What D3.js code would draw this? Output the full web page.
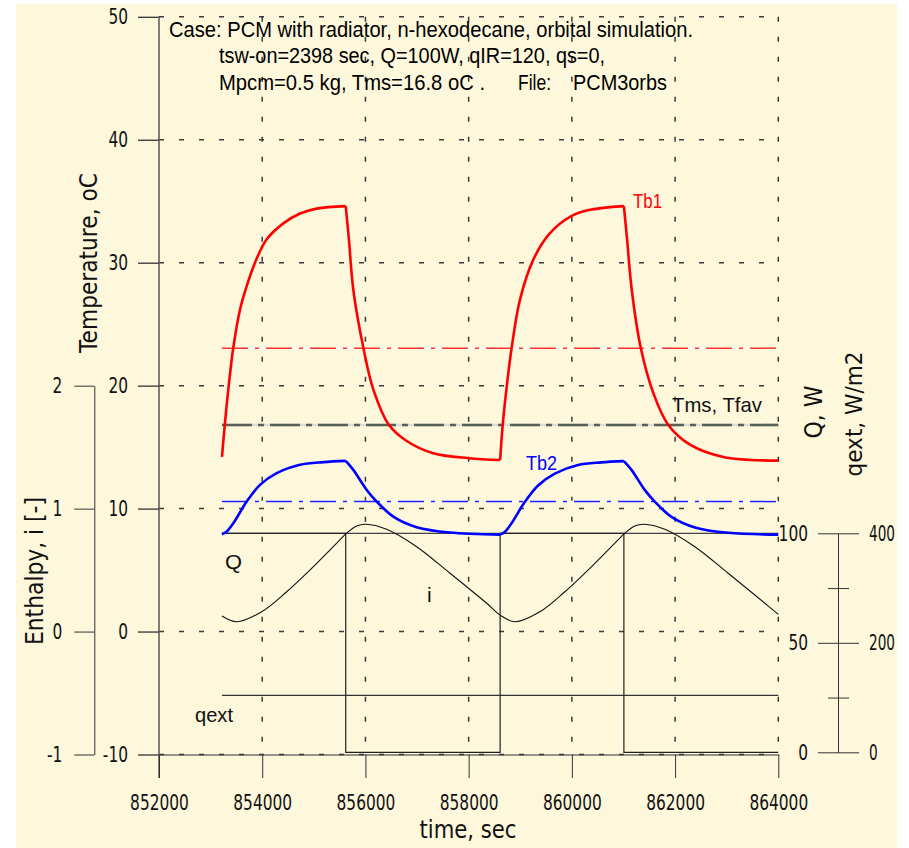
<!DOCTYPE html>
<html>
<head>
<meta charset="utf-8">
<script src="https://cdn.jsdelivr.net/npm/d3@7"></script>
<style>
body { margin: 0; background: #fff; }
svg { display: block; }
.grid { stroke: #3a3a3a; stroke-width: 1.5; stroke-dasharray: 5,15; fill: none; }
.axis path, .axis line { stroke: #333; }
.axis text { font-family: "DejaVu Sans", sans-serif; font-size: 22px; fill: #111; }
.lbl { font-family: "Liberation Sans", Arial, sans-serif; }
.ttl { font-family: "DejaVu Sans", sans-serif; fill: #111; }
</style>
</head>
<body>
<svg width="909" height="848"></svg>
<script>

// ---- data ----
var timeTicks = [852000, 854000, 856000, 858000, 860000, 862000, 864000];
var tempTicks = [-10, 0, 10, 20, 30, 40, 50];
var enthTicks = [-1, 0, 1, 2];
var qTicks = [0, 50, 100];
var qextTicks = [0, 200, 400];
var qextMinor = [100, 300];

// heater switching (Q, W)
var qTime = [853220, 855618, 858610, 861008, 864000];
var qVal  = [100, 0, 100, 0, 0];
var qMax = 100;

// external flux, W/m2
var qextTime = [853220, 864000];
var qextVal  = [104, 104];

// Tb1, oC
var tb1Time = [853220, 853279, 853356, 853440, 853570, 853699, 853860, 854087, 854409, 854732, 855056, 855618,
               855680, 855765, 855959, 856152, 856457, 856800, 857315, 858001, 858610,
               858660, 858743, 858834, 858995, 859253, 859576, 859997, 860351, 861008,
               861070, 861160, 861334, 861578, 861869, 862289, 862935, 864000];
var tb1Temp = [14.2, 17.0, 20.2, 23.1, 26.2, 28.1, 30.0, 31.9, 33.2, 34.0, 34.4, 34.6,
               31.9, 27.8, 23.1, 19.7, 16.8, 15.5, 14.5, 14.1, 13.95,
               16.8, 20.1, 23.1, 27.0, 30.25, 32.4, 33.8, 34.3, 34.6,
               31.9, 27.8, 23.1, 19.4, 16.8, 15.2, 14.2, 13.9];

// Tb2, oC
var tb2Time = [853220, 853312, 853440, 853699, 853957, 854281, 854732, 855184, 855618,
               855765, 856025, 856218, 856540, 856993, 857639, 858610,
               858700, 858830, 859090, 859350, 859670, 860120, 860570, 861008,
               861155, 861415, 861610, 861930, 862385, 863030, 864000];
var tb2Temp = [7.92, 8.13, 8.81, 10.57, 11.93, 12.88, 13.56, 13.78, 13.88,
               13.15, 11.52, 10.57, 9.35, 8.49, 8.05, 7.88,
               8.1, 8.8, 10.55, 11.9, 12.85, 13.55, 13.76, 13.86,
               13.15, 11.5, 10.55, 9.33, 8.47, 8.03, 7.88];

// enthalpy i [-]
var enthTime = [853220, 853506, 853990, 854474, 855056, 855618,
                855831, 856005, 856412, 856993, 857639, 858350, 858610,
                858896, 859380, 859864, 860446, 861008,
                861221, 861395, 861802, 862383, 863029, 863740, 864000];
var enthVal  = [0.126, 0.080, 0.161, 0.324, 0.555, 0.794,
                0.859, 0.873, 0.832, 0.69, 0.474, 0.23, 0.134,
                0.080, 0.161, 0.324, 0.555, 0.794,
                0.859, 0.873, 0.832, 0.69, 0.474, 0.23, 0.14];

// mean levels, oC
var tb1Mean = 23.05;
var tb2Mean = 10.57;
var tmsVal = 16.8;

var titleLines = ["Case: PCM with radiator, n-hexodecane, orbital simulation.",
                  "tsw-on=2398 sec, Q=100W, qIR=120, qs=0,",
                  "Mpcm=0.5 kg, Tms=16.8 oC .", "File:", "PCM3orbs"];

// ---- drawing ----
var svg = d3.select("svg");

svg.append("rect").attr("x", 16).attr("y", 4).attr("width", 881).attr("height", 844).attr("fill", "#fdf7dc");

var x = d3.scaleLinear().domain([852000, 864000]).range([159, 778.3]);
var yT = d3.scaleLinear().domain([-10, 50]).range([754.5, 16.8]);
var yI = d3.scaleLinear().domain([-1, 2]).range([754.5, 385.7]);
var yQ = d3.scaleLinear().domain([0, 100]).range([752.3, 533.3]);
var yQext = d3.scaleLinear().domain([0, 400]).range([752.3, 533.3]);

var plain = function (d) { return String(d); };   // hyphen minus, like the original

function squeeze(sel, f) {
  sel.each(function () {
    var w = this.getComputedTextLength();
    d3.select(this).attr("textLength", w * f).attr("lengthAdjust", "spacingAndGlyphs");
  });
}
function fitTo(sel, w) {
  sel.attr("textLength", w).attr("lengthAdjust", "spacingAndGlyphs");
}

// grid
svg.selectAll("line.hgrid").data(tempTicks).enter().append("line")
  .attr("class", "grid").attr("x1", x(852000)).attr("x2", x(864000))
  .attr("y1", function (d) { return yT(d); }).attr("y2", function (d) { return yT(d); });
svg.selectAll("line.vgrid").data(timeTicks.slice(1)).enter().append("line")
  .attr("class", "grid").attr("y1", yT(50)).attr("y2", yT(-10))
  .attr("x1", function (d) { return x(d); }).attr("x2", function (d) { return x(d); });

// axes
var axT = svg.append("g").attr("class", "axis").attr("transform", "translate(159,0)")
  .call(d3.axisLeft(yT).tickValues(tempTicks).tickSize(21).tickSizeOuter(0).tickPadding(10).tickFormat(plain));
axT.select(".domain").remove();
svg.append("line").attr("x1", 159).attr("x2", 159).attr("y1", yT(50)).attr("y2", 778)
  .attr("stroke", "#555").attr("stroke-width", 1.5);
axT.selectAll(".tick line").attr("stroke", "#444").attr("stroke-width", 1.3);

var axI = svg.append("g").attr("class", "axis").attr("transform", "translate(94.3,0)")
  .call(d3.axisLeft(yI).tickValues(enthTicks).tickSize(20).tickSizeOuter(0).tickPadding(12).tickFormat(plain));
axI.selectAll(".tick line").attr("stroke", "#555");

var axX = svg.append("g").attr("class", "axis").attr("transform", "translate(0," + yT(-10) + ")")
  .call(d3.axisBottom(x).tickValues(timeTicks).tickSize(23.5).tickSizeOuter(0).tickPadding(16).tickFormat(plain));
axX.select(".domain").attr("stroke", "#111");

var axQ = svg.append("g").attr("class", "axis").attr("transform", "translate(838,0)")
  .call(d3.axisLeft(yQ).tickValues(qTicks).tickSize(20).tickSizeOuter(0).tickPadding(10).tickFormat(plain));
var axQe = svg.append("g").attr("class", "axis qext").attr("transform", "translate(838,0)")
  .call(d3.axisRight(yQext).tickValues(qextTicks).tickSize(21).tickSizeOuter(0).tickPadding(10).tickFormat(plain));
axQe.select(".domain").remove();
svg.append("g").attr("class", "axis").attr("transform", "translate(838,0)")
  .call(d3.axisRight(yQext).tickValues(qextMinor).tickSize(11).tickFormat(""))
  .select(".domain").remove();
svg.append("g").attr("class", "axis").attr("transform", "translate(838,0)")
  .call(d3.axisLeft(yQext).tickValues(qextMinor).tickSize(10).tickFormat(""))
  .select(".domain").remove();

squeeze(svg.selectAll(".axis:not(.qext) text"), 0.7);
// right-most labels: narrow them with a transform so they stay inside the frame
axQe.selectAll("text").attr("x", 31 / 0.62).attr("transform", "scale(0.62,1)");

// mean / reference lines (dash-dot on a light base)
function refLine(val, base, color, w, dash) {
  svg.append("line").attr("x1", x(qTime[0])).attr("x2", x(864000)).attr("y1", yT(val)).attr("y2", yT(val))
    .attr("stroke", base).attr("stroke-width", w);
  svg.append("line").attr("x1", x(qTime[0])).attr("x2", x(864000)).attr("y1", yT(val)).attr("y2", yT(val))
    .attr("stroke", color).attr("stroke-width", w).attr("stroke-dasharray", dash);
}
refLine(tb1Mean, "#ffffff", "#ff3030", 1.5, "26,7,4,7");
refLine(tmsVal, "#dcdcdc", "#596056", 2.6, "30,6,6,6");
refLine(tb2Mean, "#ffffff", "#2020ff", 1.5, "26,7,4,7");

// Q max level, Q square wave, qext
svg.append("line").attr("x1", x(qTime[0])).attr("x2", x(864000)).attr("y1", yQ(qMax)).attr("y2", yQ(qMax))
  .attr("stroke", "#444").attr("stroke-width", 1.3);
var qLine = d3.line().x(function (d) { return x(d[0]); }).y(function (d) { return yQ(d[1]); }).curve(d3.curveStepAfter);
svg.append("path").attr("d", qLine(d3.zip(qTime, qVal))).attr("fill", "none").attr("stroke", "#222").attr("stroke-width", 1.2);
var qeLine = d3.line().x(function (d) { return x(d[0]); }).y(function (d) { return yQext(d[1]); });
svg.append("path").attr("d", qeLine(d3.zip(qextTime, qextVal))).attr("fill", "none").attr("stroke", "#333").attr("stroke-width", 1.2);

// split a series at switching times so the corners stay sharp
function pieces(times, vals, cuts) {
  var out = [], cur = [];
  for (var k = 0; k < times.length; k++) {
    cur.push([times[k], vals[k]]);
    if (k > 0 && k < times.length - 1 && cuts.indexOf(times[k]) >= 0) {
      out.push(cur);
      cur = [[times[k], vals[k]]];
    }
  }
  out.push(cur);
  return out;
}

function drawSeries(times, vals, scale, cuts, color, width) {
  var gen = d3.line().x(function (d) { return x(d[0]); }).y(function (d) { return scale(d[1]); })
    .curve(d3.curveCatmullRom.alpha(0.5));
  svg.selectAll(null).data(pieces(times, vals, cuts)).enter().append("path")
    .attr("d", gen).attr("fill", "none").attr("stroke", color).attr("stroke-width", width)
    .attr("stroke-linejoin", "round");
}

drawSeries(enthTime, enthVal, yI, [qTime[1], qTime[3]], "#111", 1.1);
drawSeries(tb2Time, tb2Temp, yT, qTime, "#0000ff", 2.6);
drawSeries(tb1Time, tb1Temp, yT, qTime, "#ff0000", 2.6);

// text
var t1 = svg.append("text").attr("class", "lbl").attr("x", 169).attr("y", 37).style("font-size", "21.5px").text(titleLines[0]);
fitTo(t1, 524);
var t2 = svg.append("text").attr("class", "lbl").attr("x", 219).attr("y", 63).style("font-size", "21.5px").text(titleLines[1]);
fitTo(t2, 386);
var t3 = svg.append("text").attr("class", "lbl").attr("x", 219).attr("y", 90).style("font-size", "21.5px").text(titleLines[2]);
fitTo(t3, 266);
var t4 = svg.append("text").attr("class", "lbl").attr("x", 518).attr("y", 90).style("font-size", "21.5px").text(titleLines[3]);
fitTo(t4, 33);
var t5 = svg.append("text").attr("class", "lbl").attr("x", 573).attr("y", 90).style("font-size", "21.5px").text(titleLines[4]);
fitTo(t5, 94);

function label(txt, px, py, w, color, size) {
  var t = svg.append("text").attr("class", "lbl").attr("x", px).attr("y", py)
    .style("font-size", size + "px").attr("fill", color).text(txt);
  if (w) fitTo(t, w);
}
label("Tb1", 633, 208, 29, "#ff0000", 21);
label("Tb2", 526, 470, 31, "#0000ff", 21);
label("Tms, Tfav", 672, 412, 90, "#111", 21);
label("Q", 225, 569, 17, "#111", 21);
label("i", 427, 602, 0, "#111", 21);
label("qext", 195, 722, 38, "#111", 21);

function vtitle(txt, px, py, w, size) {
  var t = svg.append("text").attr("class", "ttl").attr("text-anchor", "middle")
    .attr("transform", "translate(" + px + "," + py + ") rotate(-90)")
    .style("font-size", size + "px").text(txt);
  fitTo(t, w);
}
vtitle("Temperature, oC", 96.5, 263, 180, 25);
vtitle("Enthalpy, i [-]", 42.5, 571, 148, 25);
vtitle("Q, W", 822, 412, 53, 24);
vtitle("qext, W/m2", 862, 414, 125, 23);

var xt = svg.append("text").attr("class", "ttl").attr("text-anchor", "middle").attr("x", 468).attr("y", 838)
  .style("font-size", "24px").text("time, sec");
fitTo(xt, 97);

</script>
</body>
</html>
